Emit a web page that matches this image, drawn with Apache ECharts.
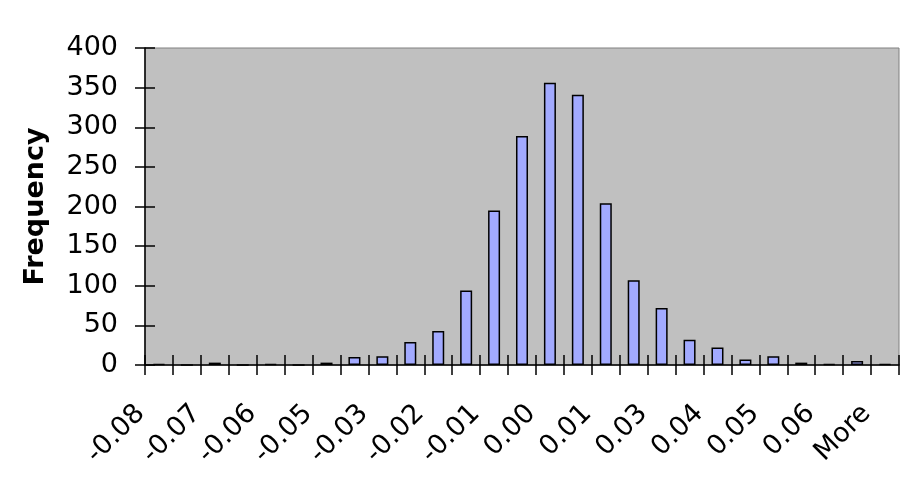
<!DOCTYPE html>
<html>
<head>
<meta charset="utf-8">
<script src="https://cdn.jsdelivr.net/npm/echarts@6/dist/echarts.min.js"></script>
<style>html,body{margin:0;padding:0;background:#fff}#c{width:906px;height:477px}</style>
</head>
<body>
<div id="c"></div>
<script>
const categories = ["-0.08","-0.074","-0.07","-0.063","-0.06","-0.051","-0.05","-0.039","-0.03","-0.028","-0.02","-0.016","-0.01","-0.004","0.00","0.008","0.01","0.019","0.03","0.031","0.04","0.043","0.05","0.054","0.06","0.066","More"];
const frequency = [1,0,3,0,1,0,3,10,11,29,43,94,195,289,356,341,204,107,72,32,22,7,11,3,1,5,1];
const yTicks = {min:0, max:400, interval:50};
const yAxisTitle = "Frequency";

const font = "'DejaVu Sans', sans-serif";
const chart = echarts.init(document.getElementById('c'), null, {renderer:'canvas'});
chart.setOption({
  animation:false,
  grid:{left:145,right:7,top:48,bottom:112,show:true,backgroundColor:'#C0C0C0',borderColor:'#808080',borderWidth:1},
  xAxis:[{
    type:'category', data:categories, boundaryGap:true,
    axisLine:{show:true,lineStyle:{color:'#000',width:1.5}},
    axisTick:{show:true,interval:0,length:10,lineStyle:{color:'#000',width:1.5}},
    axisLabel:{interval:1,rotate:45,margin:26,padding:[0,26,0,0],fontSize:27,fontFamily:font,color:'#000'},
    splitLine:{show:false}
  },{
    type:'category', data:categories, boundaryGap:true, position:'bottom',
    axisLine:{show:false},
    axisTick:{show:true,inside:true,interval:0,length:10,lineStyle:{color:'#000',width:1.5}},
    axisLabel:{show:false}, splitLine:{show:false}
  }],
  yAxis:[{
    type:'value', min:yTicks.min, max:yTicks.max, interval:yTicks.interval,
    name:yAxisTitle, nameLocation:'middle', nameGap:96,
    nameTextStyle:{fontSize:27,fontWeight:'bold',fontFamily:font,color:'#000'},
    axisLine:{show:true,lineStyle:{color:'#000',width:1.5}},
    axisTick:{show:true,length:10,lineStyle:{color:'#000',width:1.5}},
    axisLabel:{margin:27,fontSize:27,fontFamily:font,color:'#000'},
    splitLine:{show:false}
  },{
    type:'value', min:yTicks.min, max:yTicks.max, interval:yTicks.interval, position:'left',
    axisLine:{show:false},
    axisTick:{show:true,inside:true,length:10,lineStyle:{color:'#000',width:1.5}},
    axisLabel:{show:false}, splitLine:{show:false}
  }],
  series:[{
    type:'bar', data:frequency, xAxisIndex:0, yAxisIndex:0,
    barWidth:'43%',
    itemStyle:{color:'#A2AAFF',borderColor:'#000',borderWidth:1.5}
  }]
});
</script>
</body>
</html>
